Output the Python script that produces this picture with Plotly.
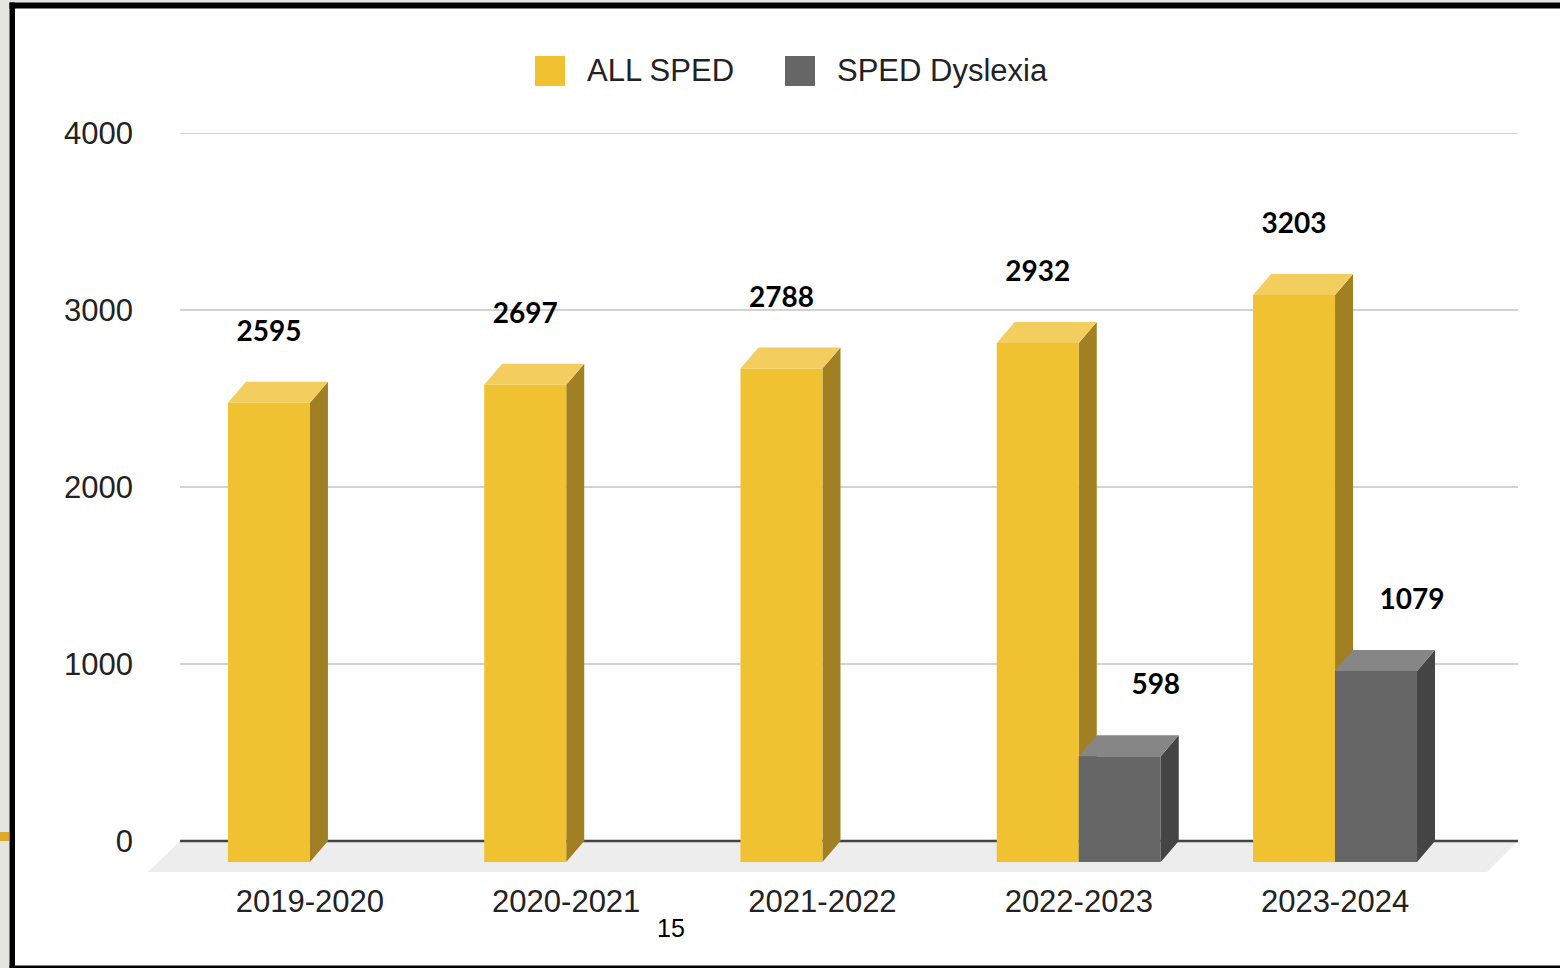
import plotly.graph_objects as go

# ---- data -------------------------------------------------------------
YEARS = ["2019-2020", "2020-2021", "2021-2022", "2022-2023", "2023-2024"]
ALL_SPED = [2595, 2697, 2788, 2932, 3203]
SPED_DYSLEXIA = [None, None, None, 598, 1079]
SERIES_NAMES = ["ALL SPED", "SPED Dyslexia"]
Y_TICKS = [0, 1000, 2000, 3000, 4000]
PAGE_NUMBER = "15"

# ---- canvas and plot-area geometry (pixels) ---------------------------
W, H = 1560, 968
L, R = 148, 1518          # plot area left / right
T, B = 133, 872           # plot area top / bottom
PW, PH = R - L, B - T

X_RANGE = [-0.632, 4.714]
Y_RANGE = [-175, 4000]
UX = PW / (X_RANGE[1] - X_RANGE[0])   # px per category step
UY = PH / (Y_RANGE[1] - Y_RANGE[0])   # px per value unit

BARGAP = 0.36
BW = (1 - BARGAP) / 2     # width of one bar in category units
DX = 18 / UX              # depth of a bar, horizontal
DY = 21 / UY              # depth of a bar, vertical
FLOOR_DX = 32             # floor depth in px
LABEL_PAD = 48 / UY

PALETTES = [
    dict(front="#F0C232", top="#F3CE5E", side="#A08023"),
    dict(front="#666666", top="#868686", side="#444444"),
]
TEXT = "#222222"


def px_x(p):
    return (p - L) / PW


def px_y(p):
    return (B - p) / PH


def bar_faces(values, k):
    """Polygons (front, top, side) of 3-D bars for series k."""
    front, top, side = ([], []), ([], []), ([], [])
    for i, v in enumerate(values):
        if v is None:
            continue
        x0 = i - BW + k * BW
        x1 = x0 + BW
        yt, yb = v - DY, -DY
        for poly, pts in (
            (front, [(x0, yb), (x1, yb), (x1, yt), (x0, yt), (x0, yb)]),
            (top, [(x0, yt), (x1, yt), (x1 + DX, v), (x0 + DX, v), (x0, yt)]),
            (side, [(x1, yb), (x1 + DX, 0), (x1 + DX, v), (x1, yt), (x1, yb)]),
        ):
            poly[0].extend([p[0] for p in pts] + [None])
            poly[1].extend([p[1] for p in pts] + [None])
    return front, top, side


fig = go.Figure()

for k, values in enumerate([ALL_SPED, SPED_DYSLEXIA]):
    pal = PALETTES[k]
    front, top, side = bar_faces(values, k)
    for (xs, ys), color in ((side, pal["side"]), (top, pal["top"]), (front, pal["front"])):
        fig.add_trace(go.Scatter(
            x=xs, y=ys, mode="lines", fill="toself", fillcolor=color,
            line=dict(width=0, color=color), hoverinfo="skip",
            showlegend=False, name=SERIES_NAMES[k],
        ))

# value labels above each bar
for k, values in enumerate([ALL_SPED, SPED_DYSLEXIA]):
    xs, ys, txt = [], [], []
    for i, v in enumerate(values):
        if v is None:
            continue
        x0 = i - BW + k * BW
        xs.append(x0 + BW / 2 + k * 2 * DX)
        ys.append(v + LABEL_PAD)
        txt.append(str(v))
    fig.add_trace(go.Scatter(
        x=xs, y=ys, text=txt, mode="text", textposition="middle center",
        textfont=dict(family="Lato", size=28, color="#000000", weight="bold"),
        hoverinfo="skip", showlegend=False,
    ))

shapes = []
# page background strip and frame
shapes.append(dict(type="rect", xref="paper", yref="paper",
                   x0=px_x(0), x1=px_x(9.5), y0=px_y(H), y1=px_y(0),
                   fillcolor="#E4E5E1", line_width=0, layer="below"))
shapes.append(dict(type="rect", xref="paper", yref="paper",
                   x0=px_x(9.5), x1=px_x(W), y0=px_y(2.5), y1=px_y(0),
                   fillcolor="#E4E5E1", line_width=0, layer="below"))
shapes.append(dict(type="rect", xref="paper", yref="paper",
                   x0=px_x(9.5), x1=px_x(15), y0=px_y(H), y1=px_y(2.5),
                   fillcolor="#000000", line_width=0, layer="below"))
shapes.append(dict(type="rect", xref="paper", yref="paper",
                   x0=px_x(9.5), x1=px_x(W), y0=px_y(8.5), y1=px_y(2.5),
                   fillcolor="#000000", line_width=0, layer="below"))
shapes.append(dict(type="rect", xref="paper", yref="paper",
                   x0=px_x(9.5), x1=px_x(W), y0=px_y(H), y1=px_y(965.5),
                   fillcolor="#000000", line_width=0, layer="below"))
shapes.append(dict(type="rect", xref="paper", yref="paper",
                   x0=px_x(0), x1=px_x(9), y0=px_y(841), y1=px_y(832),
                   fillcolor="#E0A82A", line_width=0, layer="below"))

# floor under the bars
fx0, fx1 = px_x(L), px_x(R - FLOOR_DX + 1)
bx0, bx1 = px_x(L + FLOOR_DX), px_x(R)
shapes.append(dict(
    type="path", xref="paper", yref="y",
    path=f"M{fx0},{Y_RANGE[0]} L{fx1},{Y_RANGE[0]} L{bx1},0 L{bx0},0 Z",
    fillcolor="#EDEDED", line_width=0, layer="below"))

# gridlines on the back wall
for v in Y_TICKS:
    shapes.append(dict(
        type="line", xref="paper", yref="y", x0=bx0, x1=bx1, y0=v, y1=v,
        line=dict(color="#444444" if v == 0 else "#D3D3D3",
                  width=2.5 if v == 0 else 2),
        layer="below"))

# legend
legend_x = [535, 785]
annotations = []
for k, name in enumerate(SERIES_NAMES):
    x0 = legend_x[k]
    shapes.append(dict(type="rect", xref="paper", yref="paper",
                       x0=px_x(x0), x1=px_x(x0 + 30), y0=px_y(86), y1=px_y(56),
                       fillcolor=PALETTES[k]["front"], line_width=0))
    annotations.append(dict(
        xref="paper", yref="paper", x=px_x(x0 + 50), y=px_y(70),
        xanchor="left", yanchor="middle", showarrow=False, text=name,
        font=dict(family="Liberation Sans", size=31, color=TEXT)))

annotations.append(dict(
    xref="paper", yref="paper", x=px_x(671), y=px_y(928),
    xanchor="center", yanchor="middle", showarrow=False, text=PAGE_NUMBER,
    font=dict(family="Liberation Sans", size=25, color="#000000")))

fig.update_layout(
    width=W, height=H, autosize=False,
    margin=dict(l=L, r=W - R, t=T, b=H - B, pad=0),
    paper_bgcolor="#FFFFFF", plot_bgcolor="rgba(0,0,0,0)",
    showlegend=False,
    shapes=shapes, annotations=annotations,
    xaxis=dict(range=X_RANGE, showgrid=False, zeroline=False, showline=False,
               tickmode="array", tickvals=list(range(len(YEARS))), ticktext=YEARS,
               ticks="", ticklabelstandoff=8,
               tickfont=dict(family="Liberation Sans", size=31, color=TEXT),
               fixedrange=True),
    yaxis=dict(range=Y_RANGE, showgrid=False, zeroline=False, showline=False,
               tickmode="array", tickvals=Y_TICKS,
               ticktext=[str(v) for v in Y_TICKS],
               ticks="", ticklabelstandoff=14,
               tickfont=dict(family="Liberation Sans", size=31, color=TEXT),
               fixedrange=True),
)

fig.write_html("out.html")
